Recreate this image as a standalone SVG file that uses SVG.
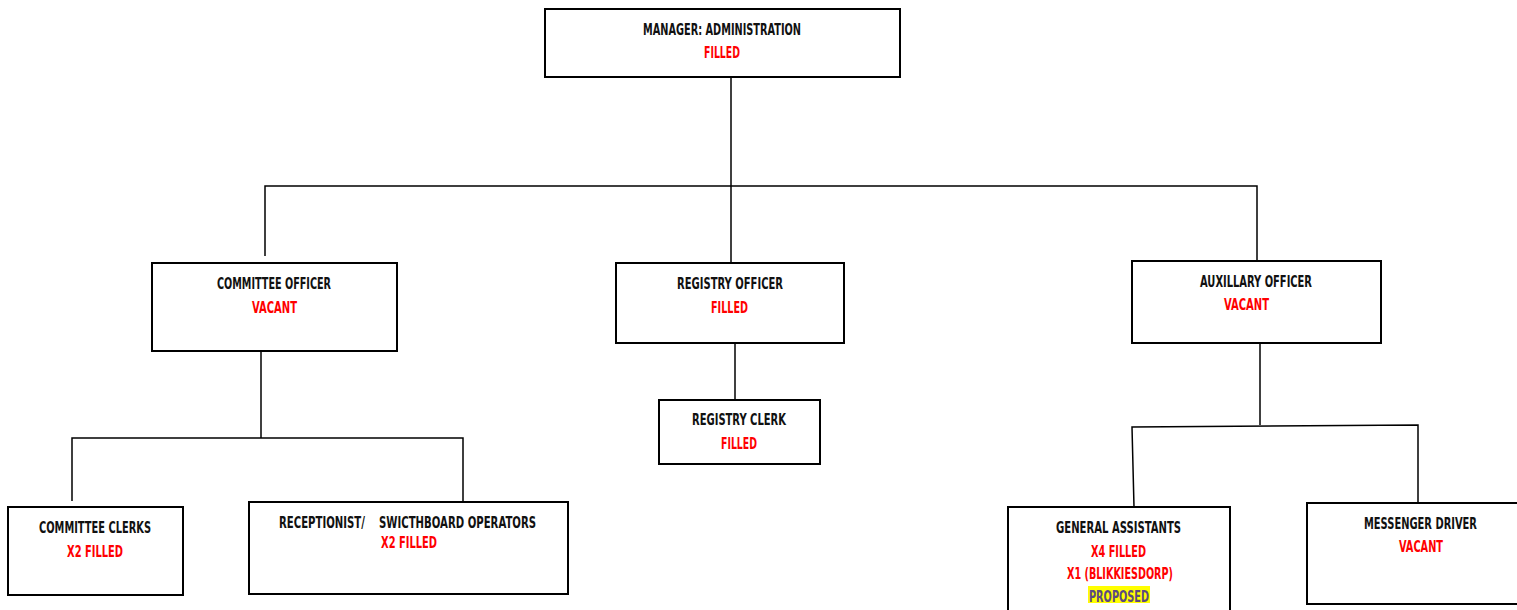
<svg xmlns="http://www.w3.org/2000/svg" width="1517" height="610" viewBox="0 0 1517 610">
<style>
.box{fill:#fff;stroke:#000;stroke-width:2}
.ln{stroke:#000;stroke-width:1.5;fill:none}
text{font-family:"DejaVu Sans Condensed","DejaVu Sans","Liberation Sans",sans-serif;font-weight:bold;font-size:16.5px;text-anchor:start}
.t{fill:#111}
.r{fill:#ff0000}
.p{fill:#5b4a82}
</style>
<rect width="1517" height="610" fill="#fff"/>
<g id="connectors">
<polyline class="ln" points="731,77 731,263"/>
<polyline class="ln" points="265,256 265,186 1257,186 1257,261"/>
<polyline class="ln" points="261,351 261,438"/>
<polyline class="ln" points="72,501 72,438 463,438 463,501"/>
<polyline class="ln" points="735,343 735,400"/>
<polyline class="ln" points="1260,343 1260,425"/>
<polyline class="ln" points="1134,507 1132,427 1418,425 1418,503"/>
</g>
<g id="manager">
<rect class="box" x="545" y="9" width="355" height="68"/>
<text class="t" x="643" y="35" textLength="158" lengthAdjust="spacingAndGlyphs">MANAGER: ADMINISTRATION</text>
<text class="r" x="704" y="58" textLength="36" lengthAdjust="spacingAndGlyphs">FILLED</text>
</g>
<g id="committee-officer">
<rect class="box" x="152" y="263" width="245" height="88"/>
<text class="t" x="217" y="289" textLength="114" lengthAdjust="spacingAndGlyphs">COMMITTEE OFFICER</text>
<text class="r" x="252" y="313" textLength="45" lengthAdjust="spacingAndGlyphs">VACANT</text>
</g>
<g id="registry-officer">
<rect class="box" x="616" y="263" width="228" height="80"/>
<text class="t" x="677" y="289" textLength="106" lengthAdjust="spacingAndGlyphs">REGISTRY OFFICER</text>
<text class="r" x="711" y="313" textLength="37" lengthAdjust="spacingAndGlyphs">FILLED</text>
</g>
<g id="auxillary-officer">
<rect class="box" x="1132" y="261" width="249" height="82"/>
<text class="t" x="1200" y="287" textLength="112" lengthAdjust="spacingAndGlyphs">AUXILLARY OFFICER</text>
<text class="r" x="1224" y="310" textLength="45" lengthAdjust="spacingAndGlyphs">VACANT</text>
</g>
<g id="committee-clerks">
<rect class="box" x="8" y="507" width="175" height="88"/>
<text class="t" x="39" y="533" textLength="112" lengthAdjust="spacingAndGlyphs">COMMITTEE CLERKS</text>
<text class="r" x="67" y="557" textLength="56" lengthAdjust="spacingAndGlyphs">X2 FILLED</text>
</g>
<g id="receptionist">
<rect class="box" x="249" y="502" width="319" height="92"/>
<text class="t" x="279" y="528" textLength="257" lengthAdjust="spacingAndGlyphs" xml:space="preserve">RECEPTIONIST/    SWICTHBOARD OPERATORS</text>
<text class="r" x="381" y="548" textLength="56" lengthAdjust="spacingAndGlyphs">X2 FILLED</text>
</g>
<g id="registry-clerk">
<rect class="box" x="659" y="400" width="161" height="64"/>
<text class="t" x="692" y="425" textLength="94" lengthAdjust="spacingAndGlyphs">REGISTRY CLERK</text>
<text class="r" x="721" y="449" textLength="36" lengthAdjust="spacingAndGlyphs">FILLED</text>
</g>
<g id="general-assistants">
<rect class="box" x="1008" y="507" width="222" height="110"/>
<text class="t" x="1056" y="533" textLength="125" lengthAdjust="spacingAndGlyphs">GENERAL ASSISTANTS</text>
<text class="r" x="1091" y="557" textLength="55" lengthAdjust="spacingAndGlyphs">X4 FILLED</text>
<text class="r" x="1067" y="579" textLength="106" lengthAdjust="spacingAndGlyphs">X1 (BLIKKIESDORP)</text>
<rect x="1088" y="586" width="62" height="17" fill="#ffff00"/>
<text class="p" x="1089" y="602" textLength="60" lengthAdjust="spacingAndGlyphs">PROPOSED</text>
</g>
<g id="messenger-driver">
<path class="box" d="M1517,503 H1307 V604 H1517"/>
<text class="t" x="1420.5" y="529" style="text-anchor:middle;font-size:15px" textLength="113" lengthAdjust="spacingAndGlyphs">MESSENGER DRIVER</text>
<text class="r" x="1421" y="552" style="text-anchor:middle" textLength="44" lengthAdjust="spacingAndGlyphs">VACANT</text>
</g>
</svg>
